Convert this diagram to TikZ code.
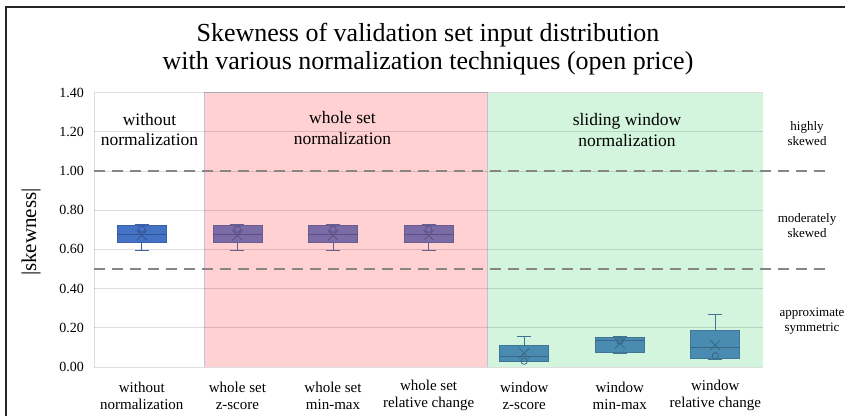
\documentclass[tikz,border=0pt]{standalone}
\usepackage{fontspec}
\setmainfont{Liberation Serif}
\usetikzlibrary{positioning}

\definecolor{pinkzone}{HTML}{FFD1D3}
\definecolor{greenzone}{HTML}{D3F4DD}
\definecolor{zoneedge}{HTML}{C4C0DA}
\definecolor{boxblue}{HTML}{4472C4}
\definecolor{boxpurple}{HTML}{7B6CA8}
\definecolor{boxteal}{HTML}{4A8BB1}
\definecolor{dashgray}{HTML}{868686}

\tikzset{
  gridline/.style={black, opacity=0.13, line width=1pt},
  limitline/.style={dashgray, line width=2.5pt, dash pattern=on 11pt off 7pt},
  ticklabel/.style={anchor=east, font=\fontsize{14}{16}\selectfont, inner sep=0pt},
  catlabel/.style={align=center, font=\fontsize{15}{17}\selectfont, inner sep=0pt},
  zonelabel/.style={align=center, font=\fontsize{17.5}{20.5}\selectfont, inner sep=0pt},
  sidelabel/.style={align=center, font=\fontsize{13}{15}\selectfont, inner sep=0pt},
}

\begin{document}
\begin{tikzpicture}[x=1pt, y=-1pt]
  \useasboundingbox (0,0) rectangle (845,416);
  \fill[white] (0,0) rectangle (845,416);
  \draw[black!85, line width=1.5pt] (6,416) -- (6,7) -- (845,7);

  % plot area, y in skewness units
  \begin{scope}[shift={(0,367)}, y=196pt]
    \fill[pinkzone] (204,0) rectangle (487,1.4);
    \fill[greenzone] (487,0) rectangle (763,1.4);
    \draw[zoneedge, line width=0.8pt] (204,0) -- (204,1.4) -- (487,1.4) -- (487,0);
    \foreach \v in {0,0.2,...,1.41}
      \draw[gridline] (94,\v) -- (763,\v);
    \draw[gridline] (94,0) -- (94,1.4);
    \foreach \v/\t [count=\i] in {0/0.00, 0.2/0.20, 0.4/0.40, 0.6/0.60, 0.8/0.80, 1/1.00, 1.2/1.20, 1.4/1.40}
      \node[ticklabel] (tick\i) at (84,\v) {\t};
    \draw[limitline] (94,1) -- (830,1);
    \draw[limitline] (94,0.5) -- (830,0.5);

    \foreach \cx/\lo/\qa/\md/\qb/\hi/\mn/\ci/\col in {
        141.8/.595/.635/.677/.72/.728/.672/.703/boxblue,
        237.4/.595/.635/.677/.72/.728/.672/.703/boxpurple,
        333.0/.595/.635/.677/.72/.728/.672/.703/boxpurple,
        428.6/.595/.635/.677/.72/.728/.672/.703/boxpurple,
        524.2/.030/.031/.053/.112/.158/.070/.030/boxteal,
        619.8/.070/.073/.135/.150/.156/.120/.133/boxteal,
        715.3/.039/.042/.100/.189/.269/.112/.057/boxteal}
    {
      \draw[\col!85!black, line width=1pt] (\cx,\lo) -- (\cx,\qa) (\cx,\qb) -- (\cx,\hi)
        (\cx-7,\lo) -- (\cx+7,\lo) (\cx-7,\hi) -- (\cx+7,\hi);
      \filldraw[fill=\col, draw=\col!85!black, line width=0.8pt] (\cx-24.5,\qa) rectangle (\cx+24.5,\qb);
      \draw[\col!75!black, line width=0.8pt] (\cx-24.5,\md) -- (\cx+24.5,\md);
      \draw[\col!75!black, line width=0.8pt] (\cx,\mn) ++(-5pt,-5pt) -- ++(10pt,10pt)
        (\cx,\mn) ++(-5pt,5pt) -- ++(10pt,-10pt);
      \draw[\col!75!black, line width=0.8pt] (\cx,\ci) circle[radius=3.2pt];
    }
  \end{scope}

  \node[align=center, font=\fontsize{26}{28}\selectfont, inner sep=0pt] (title) at (428,49)
    {Skewness of validation set input distribution\\with various normalization techniques (open price)};
  \node[rotate=90, font=\fontsize{21}{23}\selectfont, inner sep=0pt] (ylabel) at (31,232) {|skewness|};

  \node[zonelabel] (nonorm) at (149.5,129.5) {without\\normalization};
  \node[zonelabel] (wholeset) at (342.5,128) {whole set\\normalization};
  \node[zonelabel] (sliding) at (627,130) {sliding window\\normalization};

  \node[sidelabel] (high) at (807,133.5) {highly\\skewed};
  \node[sidelabel] (moderate) at (807,225.5) {moderately\\skewed};
  \node[sidelabel] (approx) at (812,321) {approximate\\symmetric};

  \node[catlabel] (cat1) at (141.8,395.5) {without\\normalization};
  \node[catlabel] (cat2) at (237.4,395.5) {whole set\\z-score};
  \node[catlabel] (cat3) at (333.0,395.5) {whole set\\min-max};
  \node[catlabel] (cat4) at (428.6,395.5) {whole set\\relative change};
  \node[catlabel] (cat5) at (524.2,395.5) {window\\z-score};
  \node[catlabel] (cat6) at (619.8,395.5) {window\\min-max};
  \node[catlabel] (cat7) at (715.3,395.5) {window\\relative change};
\end{tikzpicture}
\end{document}
